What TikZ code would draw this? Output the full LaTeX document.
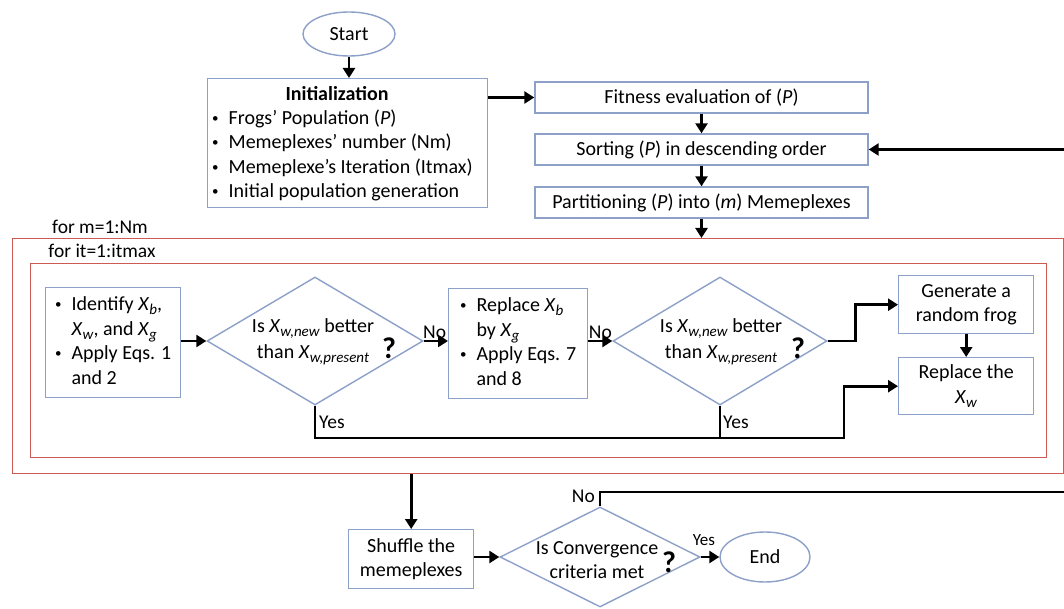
\documentclass[tikz,border=0pt]{standalone}
\usepackage{fontspec}
\setmainfont{Carlito}
\usetikzlibrary{arrows.meta,shapes.geometric,calc}
\definecolor{boxblue}{RGB}{140,160,200}
\definecolor{loopred}{RGB}{205,90,85}
\newcommand{\fs}{\fontsize{20}{24.5}\selectfont}
\newcommand{\fl}{\fontsize{19.5}{22}\selectfont}
\newcommand{\Xv}[1]{\textit{X}\raisebox{-4pt}{\fontsize{15}{15}\selectfont\textit{#1}}}
\newcommand{\bul}{\raisebox{2pt}{\fontsize{13}{13}\selectfont\textbullet}}
\tikzset{
  box/.style={draw=boxblue, line width=1.4pt, fill=white, rectangle, inner sep=0pt, align=center, font=\fs},
  oval/.style={draw=boxblue, line width=1.4pt, ellipse, inner sep=0pt, font=\fs},
  dia/.style={draw=boxblue, line width=1.4pt, diamond, inner sep=0pt},
  loopbox/.style={draw=loopred, line width=1.3pt, rectangle, inner sep=0pt},
  txt/.style={inner sep=0pt, font=\fs, align=center},
  lbl/.style={inner sep=1pt, font=\fl},
  qm/.style={inner sep=0pt, font=\fontsize{30}{30}\selectfont\bfseries},
  conn/.style={line width=2.6pt, draw=black},
  arr/.style={conn, -{Triangle[length=10pt,width=12pt]}},
}
\begin{document}
\begin{tikzpicture}[x=1pt,y=-1pt]
\useasboundingbox[fill=white] (0,0) rectangle (1064,609);

% top part
\node[oval, minimum width=92, minimum height=44] (start) at (349,34) {Start};
\node[box, anchor=north west, minimum width=280, minimum height=129] (init) at (207,78) {};
\node[txt, font=\fs\bfseries] (inittitle) at (337,94) {Initialization};
\node[txt, anchor=north west, align=left] (initlist) at (212,107) {%
  \begin{tabular}{@{}l@{\hspace{10pt}}l@{}}
  \bul & Frogs’ Population (\textit{P})\\
  \bul & Memeplexes’ number (Nm)\\
  \bul & Memeplexe’s Iteration (Itmax)\\
  \bul & Initial population generation
  \end{tabular}};

\node[box, minimum width=333, minimum height=31] (fit) at (701.5,97.5) {Fitness evaluation of (\textit{P})};
\node[box, minimum width=333, minimum height=31] (sort) at (701.5,149.5) {Sorting (\textit{P}) in descending order};
\node[box, minimum width=333, minimum height=31] (part) at (701.5,202.5) {Partitioning (\textit{P}) into (\textit{m}) Memeplexes};

% loops
\node[loopbox, anchor=north west, minimum width=1051, minimum height=235] (outer) at (12,238) {};
\node[lbl, inner sep=0pt] (outerlbl) at (100,227) {for m=1:Nm};
\node[loopbox, anchor=north west, minimum width=1016, minimum height=194] (inner) at (30,263) {};
\node[lbl, inner sep=0pt] (innerlbl) at (102,251) {for it=1:itmax};

% inner loop content
\node[box, anchor=north west, minimum width=135, minimum height=110, align=left] (ident) at (45,287) {%
  \begin{tabular}{@{}l@{\hspace{10pt}}l@{}}
  \bul & Identify \Xv{b},\\
   & \Xv{w}, and \Xv{g}\\
  \bul & Apply Eqs. 1\\
   & and 2
  \end{tabular}};
\node[dia, minimum width=216, minimum height=128] (d1) at (315,341) {};
\node[txt] (d1t) at (313,342) {Is \Xv{w,new} better\\[2pt]than \Xv{w,present}};
\node[qm] (d1q) at (389,348) {?};

\node[box, anchor=north west, minimum width=139, minimum height=110, align=left] (rep) at (448,288) {%
  \begin{tabular}{@{}l@{\hspace{10pt}}l@{}}
  \bul & Replace \Xv{b}\\
   & by \Xv{g}\\
  \bul & Apply Eqs. 7\\
   & and 8
  \end{tabular}};
\node[dia, minimum width=214, minimum height=128] (d2) at (720,341) {};
\node[txt] (d2t) at (721,342) {Is \Xv{w,new} better\\[2pt]than \Xv{w,present}};
\node[qm] (d2q) at (798,348) {?};

\node[box, anchor=north west, minimum width=135, minimum height=58] (gen) at (898,275) {Generate a\\random frog};
\node[box, anchor=north west, minimum width=135, minimum height=57] (repl) at (898,357) {Replace the\\\Xv{w}};

% bottom part
\node[box, anchor=north west, minimum width=125, minimum height=59] (shuf) at (348,529) {Shuffle the\\memeplexes};
\node[dia, minimum width=200, minimum height=100] (d3) at (600,557) {};
\node[txt] (d3t) at (597,560) {Is Convergence\\criteria met};
\node[qm] (d3q) at (669,562) {?};
\node[oval, minimum width=90, minimum height=50] (endn) at (765,557) {End};

% coordinates
\coordinate (yj) at (844,438);
\coordinate (nr) at (1070,492);

% connectors
\draw[arr] (start.south) -- (start.south |- init.north);
\draw[arr] (init.east |- fit.west) -- (fit.west);
\draw[arr] (fit) -- (sort);
\draw[arr] (sort) -- (part);
\draw[arr] (part.south) -- (part.south |- outer.north);

\draw[arr] (ident.east |- d1.west) -- (d1.west);
\draw[arr] (d1.east) -- node[lbl, above, pos=0.45] (no1) {No} (d1.east -| rep.west);
\draw[arr] (rep.east |- d2.west) -- node[lbl, above] (no2) {No} (d2.west);
\draw[arr] (d2.east) -- ++(28,0) |- (gen.west);
\draw[arr] (gen) -- (repl);
\draw[arr] (d1.south) |- (yj) |- (repl.west);
\draw[conn] (d2.south) -- (d2.south |- yj);
\node[lbl, anchor=west] (yes1) at (318,422) {Yes};
\node[lbl, anchor=west] (yes2) at (722,422) {Yes};

\draw[arr] (outer.south -| shuf.north) -- (shuf.north);
\draw[arr] (shuf.east |- d3.west) -- (d3.west);
\draw[arr] (d3.east) -- (endn.west);
\node[lbl, font=\fontsize{17}{18}\selectfont] (yes3) at (704,540) {Yes};
\draw[arr] (d3.north) |- (nr) |- (sort.east);
\node[lbl, anchor=east] (no3) at (596,496) {No};
\end{tikzpicture}
\end{document}
